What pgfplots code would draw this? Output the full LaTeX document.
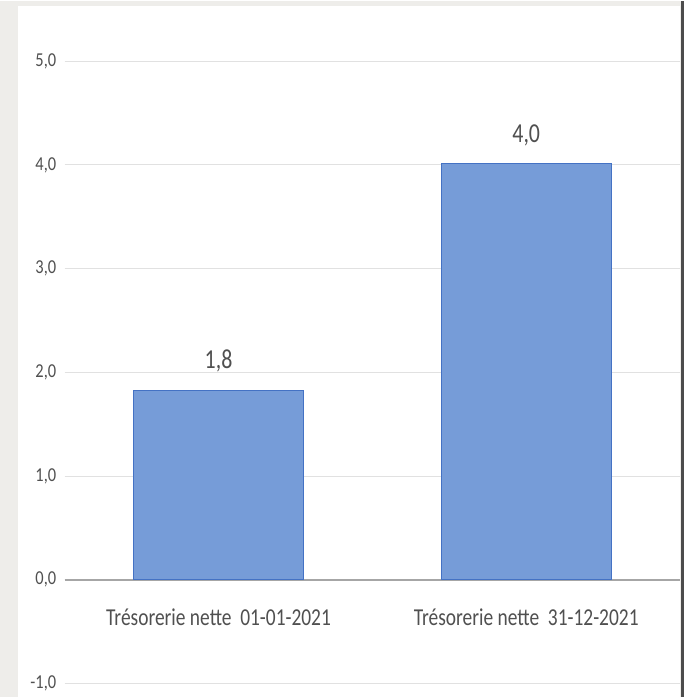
\documentclass[border=0pt]{standalone}
\usepackage{fontspec}
\setmainfont{Carlito}
\usepackage{pgfplots}
\pgfplotsset{compat=1.18}
\definecolor{barfill}{RGB}{118,156,216}
\definecolor{baredge}{RGB}{68,114,196}
\definecolor{txtgray}{RGB}{80,80,80}
\definecolor{gridgray}{RGB}{225,225,225}
\definecolor{bggray}{RGB}{238,237,234}
\begin{document}
\begin{tikzpicture}[x=1pt,y=1pt]
% background panel
\fill[bggray] (0,0) rectangle (687,698);
\fill[white] (18,0) rectangle (683,693);
\draw[black!70,line width=3pt] (685,0) -- (685,698);
\begin{axis}[
    at={(65pt,13pt)}, anchor=south west,
    scale only axis,
    width=618pt, height=625pt,
    xmin=-0.5, xmax=1.5,
    ymin=-1, ymax=5,
    ytick={-1,0,...,5},
    xtick={0,1},
    xticklabels={\scalebox{1}[1.25]{Trésorerie nette\ \ 01-01-2021}, \scalebox{1}[1.25]{Trésorerie nette\ \ 31-12-2021}},
    yticklabel={\scalebox{1}[1.2]{\pgfmathprintnumber{\tick}}},
    axis x line*=middle,
    axis y line*=left,
    y axis line style={draw=none},
    x axis line style={draw=black!35,line width=1.8pt},
    major tick length=0pt,
    ymajorgrids=true,
    grid style={gridgray,line width=1pt},
    /pgf/number format/.cd, use comma, fixed, fixed zerofill, precision=1, assume math mode=true,
    /pgfplots/.cd,
    yticklabel style={font=\fontsize{16.5}{18}\selectfont, text=txtgray, xshift=-5pt},
    xticklabel style={font=\fontsize{19.5}{22}\selectfont, text=txtgray, yshift=-26pt},
    ybar, bar width=171pt,
    nodes near coords={\scalebox{1}[1.25]{\pgfmathprintnumber{\pgfplotspointmeta}}},
    nodes near coords style={font=\fontsize{22}{26}\selectfont, text=txtgray, yshift=14pt,
        /pgf/number format/.cd, use comma, fixed, fixed zerofill, precision=1},
]
\addplot[fill=barfill, draw=baredge, line width=1pt] coordinates {(0,1.83) (1,4.01)};
\end{axis}
\end{tikzpicture}
\end{document}
